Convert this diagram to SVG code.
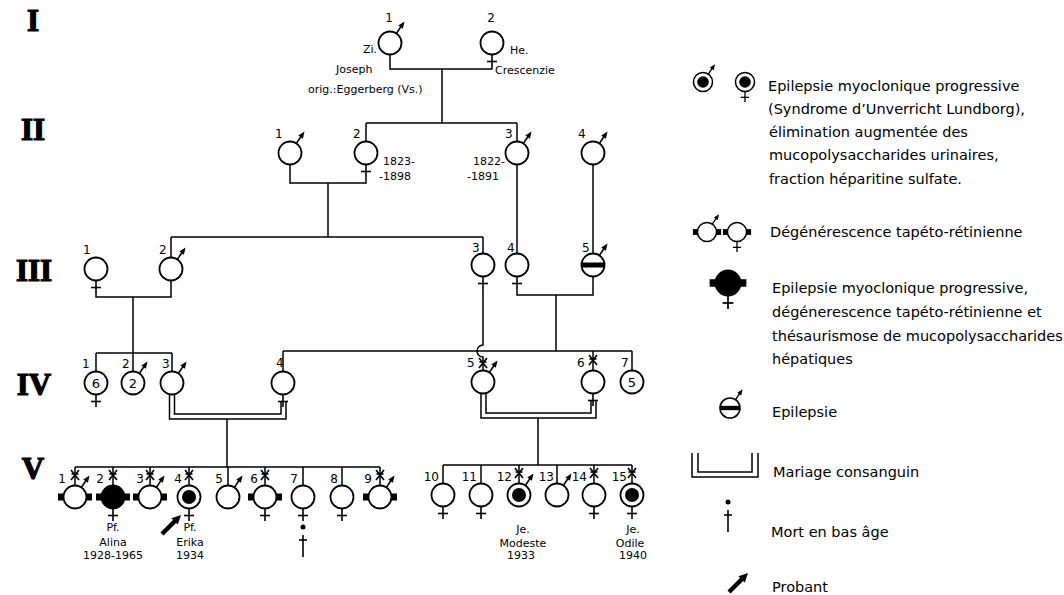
<svg xmlns="http://www.w3.org/2000/svg" xmlns:xlink="http://www.w3.org/1999/xlink" width="1064" height="595" viewBox="0 0 1064 595">
<style>
.ln{fill:none;stroke:#000;stroke-width:1.5}
.c{fill:#fff;stroke:#000;stroke-width:1.8}
.f{fill:#000;stroke:#000;stroke-width:1.8}
.in{fill:#000}
.s{stroke:#000;stroke-width:1.6;fill:none}
text{font-family:"DejaVu Sans","Liberation Sans",sans-serif;fill:#000}
.t{font-size:11px}
.n{font-size:12px}
.m{font-size:12px;text-anchor:middle}
.e{font-size:12px;text-anchor:end}
.cn{font-size:13px;text-anchor:middle}
.lg{font-size:14.5px}
.gen{font-family:"Liberation Serif",serif;font-weight:900;font-size:31px;text-anchor:middle;stroke:#000;stroke-width:1.2}
</style>
<defs>
<g id="male"><line class="s" x1="6.4" y1="-9.6" x2="11" y2="-16.5"/><polygon points="14.5,-21.5 12.9,-14.3 8.3,-17.5" fill="#000"/></g>
<g id="fem"><line class="s" x1="0" y1="11.5" x2="0" y2="24"/><line class="s" x1="-5" y1="18.5" x2="5" y2="18.5"/></g>
<g id="tr"><rect x="-17" y="-3.5" width="6.5" height="7" fill="#000"/><rect x="10.5" y="-3.5" width="6.5" height="7" fill="#000"/></g>
<g id="dx"><line class="s" x1="-4" y1="-5" x2="4" y2="5"/><line class="s" x1="-4" y1="5" x2="4" y2="-5"/><line class="s" x1="-3.5" y1="-1" x2="3.5" y2="-1"/></g>
<g id="prob"><line x1="0" y1="0" x2="13" y2="-13" stroke="#000" stroke-width="4.5"/><polygon points="19,-19 15.8,-9.4 9.4,-15.8" fill="#000"/></g>
</defs>
<rect width="1064" height="595" fill="#fff"/>

<g id="generations">
<text class="gen" x="33" y="31">I</text>
<text class="gen" x="33" y="140">II</text>
<text class="gen" x="34" y="281">III</text>
<text class="gen" x="34" y="395">IV</text>
<text class="gen" x="33" y="479">V</text>
</g>

<g id="connectors" class="ln">
<path d="M390,54.5 V69 H492 V67"/>
<path d="M442,69 V123"/>
<path d="M366,123 H517 M366,123 V141.5 M517,123 V141.5"/>
<path d="M290,164.5 V183 H366 V177"/>
<path d="M328,183 V237"/>
<path d="M171,237 H483 M171,237 V257.5 M483,237 V253.5"/>
<path d="M517,164.5 V253.5"/>
<path d="M593,164.5 V253.5"/>
<path d="M96,293 V297 H171 V280.5"/>
<path d="M133,297 V371.5"/>
<path d="M96,353 H172 M96,353 V371.5 M172,353 V371.5"/>
<path d="M517,289 V295 H593 V276.5"/>
<path d="M556,295 V351"/>
<path d="M283,351 H632 M283,351 V371.5 M593,351 V370.5 M632,351 V370.5"/>
<path d="M483,289 V345 A6,6 0 0 0 483,357 V370.5"/>
<path d="M169.5,394.5 V419 H286 V401.5"/>
<path d="M174.5,394.5 V414 H281 V401.5"/>
<path d="M227,419 V467"/>
<path d="M75,467 H380 M75,467 V485.5 M113,467 V485.5 M150,467 V485.5 M189,467 V485.5 M228,467 V485.5 M265,467 V485.5 M303,467 V485.5 M342,467 V485.5 M380,467 V485.5"/>
<path d="M481,393.5 V418 H596 V400.5"/>
<path d="M486,393.5 V413 H591 V400.5"/>
<path d="M538,418 V465"/>
<path d="M443,465 H632 M443,465 V483.5 M481,465 V483.5 M519,465 V483.5 M557,465 V483.5 M594,465 V483.5 M632,465 V483.5"/>
</g>

<g id="I-1"><circle class="c" cx="390" cy="43" r="11.5"/><use xlink:href="#male" x="390" y="43"/>
<text class="m" x="389" y="22">1</text>
<text class="t" x="377" y="53" text-anchor="end">Zi.</text>
<text class="t" x="336" y="73">Joseph</text>
<text class="t" x="308" y="93">orig.:Eggerberg (Vs.)</text></g>
<g id="I-2"><circle class="c" cx="492" cy="43" r="11.5"/><use xlink:href="#fem" x="492" y="43"/>
<text class="m" x="491" y="22">2</text>
<text class="t" x="510" y="54">He.</text>
<text class="t" x="495" y="74">Crescenzie</text></g>

<g id="II-1"><circle class="c" cx="290" cy="153" r="11.5"/><use xlink:href="#male" x="290" y="153"/><text class="n" x="275" y="138">1</text></g>
<g id="II-2"><circle class="c" cx="366" cy="153" r="11.5"/><use xlink:href="#fem" x="366" y="153"/><text class="n" x="353" y="138">2</text>
<text class="t" x="383" y="165">1823-</text><text class="t" x="379" y="180">-1898</text></g>
<g id="II-3"><circle class="c" cx="517" cy="153" r="11.5"/><use xlink:href="#male" x="517" y="153"/><text class="n" x="505" y="138">3</text>
<text class="t" x="473" y="165">1822-</text><text class="t" x="467" y="180">-1891</text></g>
<g id="II-4"><circle class="c" cx="593" cy="153" r="11.5"/><use xlink:href="#male" x="593" y="153"/><text class="n" x="578" y="138">4</text></g>

<g id="III-1"><circle class="c" cx="96" cy="269" r="11.5"/><use xlink:href="#fem" x="96" y="269"/><text class="n" x="83" y="254">1</text></g>
<g id="III-2"><circle class="c" cx="171" cy="269" r="11.5"/><use xlink:href="#male" x="171" y="269"/><text class="n" x="159" y="254">2</text></g>
<g id="III-3"><circle class="c" cx="483" cy="265" r="11.5"/><use xlink:href="#fem" x="483" y="265"/><text class="n" x="472" y="252">3</text></g>
<g id="III-4"><circle class="c" cx="517" cy="265" r="11.5"/><use xlink:href="#fem" x="517" y="265"/><text class="n" x="507" y="252">4</text></g>
<g id="III-5"><circle class="c" cx="593" cy="265" r="11.5"/><rect x="581.5" y="262.5" width="23" height="5" fill="#000"/><use xlink:href="#male" x="593" y="265"/><text class="n" x="582" y="252">5</text></g>

<g id="IV-1"><circle class="c" cx="96" cy="383" r="11.5"/><use xlink:href="#fem" x="96" y="383"/><text class="cn" x="96" y="388">6</text><text class="n" x="82" y="368">1</text></g>
<g id="IV-2"><circle class="c" cx="133" cy="383" r="11.5"/><use xlink:href="#male" x="133" y="383"/><text class="cn" x="133" y="388">2</text><text class="n" x="122" y="368">2</text></g>
<g id="IV-3"><circle class="c" cx="172" cy="383" r="11.5"/><use xlink:href="#male" x="172" y="383"/><text class="n" x="162" y="368">3</text></g>
<g id="IV-4"><circle class="c" cx="283" cy="383" r="11.5"/><use xlink:href="#fem" x="283" y="383"/><text class="n" x="276" y="367">4</text></g>
<g id="IV-5"><circle class="c" cx="483" cy="382" r="11.5"/><use xlink:href="#male" x="483" y="382"/><use xlink:href="#dx" x="483" y="363"/><text class="n" x="467" y="367">5</text></g>
<g id="IV-6"><circle class="c" cx="593" cy="382" r="11.5"/><use xlink:href="#fem" x="593" y="382"/><use xlink:href="#dx" x="593" y="360"/><text class="n" x="577" y="367">6</text></g>
<g id="IV-7"><circle class="c" cx="632" cy="382" r="11.5"/><text class="cn" x="632" y="387">5</text><text class="n" x="621" y="367">7</text></g>

<g id="V-1"><use xlink:href="#tr" x="75" y="497"/><circle class="c" cx="75" cy="497" r="11.5"/><use xlink:href="#male" x="75" y="497"/><use xlink:href="#dx" x="75" y="475"/><text class="e" x="66" y="483">1</text></g>
<g id="V-2"><use xlink:href="#tr" x="113" y="497"/><circle class="f" cx="113" cy="497" r="11.5"/><use xlink:href="#fem" x="113" y="497"/><use xlink:href="#dx" x="113" y="475"/><text class="e" x="104" y="483">2</text>
<text class="t" x="113" y="531" text-anchor="middle">Pf.</text><text class="t" x="113" y="546" text-anchor="middle">Alina</text><text class="t" x="113" y="559" text-anchor="middle">1928-1965</text></g>
<g id="V-3"><use xlink:href="#tr" x="150" y="497"/><circle class="c" cx="150" cy="497" r="11.5"/><use xlink:href="#male" x="150" y="497"/><use xlink:href="#dx" x="150" y="475"/><text class="e" x="144" y="483">3</text></g>
<g id="V-4"><circle class="c" cx="189" cy="497" r="11.5"/><circle class="in" cx="189" cy="497" r="7"/><use xlink:href="#fem" x="189" y="497"/><use xlink:href="#dx" x="189" y="475"/><text class="e" x="182" y="483">4</text>
<use xlink:href="#prob" x="162" y="534"/>
<text class="t" x="190" y="531" text-anchor="middle">Pf.</text><text class="t" x="190" y="546" text-anchor="middle">Erika</text><text class="t" x="190" y="559" text-anchor="middle">1934</text></g>
<g id="V-5"><circle class="c" cx="228" cy="497" r="11.5"/><use xlink:href="#male" x="228" y="497"/><text class="e" x="223" y="483">5</text></g>
<g id="V-6"><use xlink:href="#tr" x="265" y="497"/><circle class="c" cx="265" cy="497" r="11.5"/><use xlink:href="#fem" x="265" y="497"/><use xlink:href="#dx" x="265" y="475"/><text class="e" x="258" y="483">6</text></g>
<g id="V-7"><circle class="c" cx="303" cy="497" r="11.5"/><use xlink:href="#fem" x="303" y="497"/><text class="e" x="298" y="483">7</text>
<circle cx="303" cy="527" r="2.5" fill="#000"/><line class="s" x1="303" y1="535" x2="303" y2="557"/><line class="s" x1="299" y1="540" x2="307" y2="540"/></g>
<g id="V-8"><circle class="c" cx="342" cy="497" r="11.5"/><use xlink:href="#fem" x="342" y="497"/><text class="e" x="338" y="483">8</text></g>
<g id="V-9"><use xlink:href="#tr" x="380" y="497"/><circle class="c" cx="380" cy="497" r="11.5"/><use xlink:href="#male" x="380" y="497"/><use xlink:href="#dx" x="380" y="475"/><text class="e" x="372" y="483">9</text></g>

<g id="V-10"><circle class="c" cx="443" cy="495" r="11.5"/><use xlink:href="#fem" x="443" y="495"/><text class="e" x="439" y="481">10</text></g>
<g id="V-11"><circle class="c" cx="481" cy="495" r="11.5"/><use xlink:href="#fem" x="481" y="495"/><text class="e" x="477" y="481">11</text></g>
<g id="V-12"><circle class="c" cx="519" cy="495" r="11.5"/><circle class="in" cx="519" cy="495" r="7"/><use xlink:href="#male" x="519" y="495"/><use xlink:href="#dx" x="519" y="473"/><text class="e" x="512" y="481">12</text>
<text class="t" x="523" y="533" text-anchor="middle">Je.</text><text class="t" x="523" y="547" text-anchor="middle">Modeste</text><text class="t" x="521" y="559" text-anchor="middle">1933</text></g>
<g id="V-13"><circle class="c" cx="557" cy="495" r="11.5"/><use xlink:href="#male" x="557" y="495"/><text class="e" x="554" y="481">13</text></g>
<g id="V-14"><circle class="c" cx="594" cy="495" r="11.5"/><use xlink:href="#fem" x="594" y="495"/><use xlink:href="#dx" x="594" y="473"/><text class="e" x="587" y="481">14</text></g>
<g id="V-15"><circle class="c" cx="632" cy="495" r="11.5"/><circle class="in" cx="632" cy="495" r="7"/><use xlink:href="#fem" x="632" y="495"/><use xlink:href="#dx" x="632" y="473"/><text class="e" x="627" y="481">15</text>
<text class="t" x="633" y="533" text-anchor="middle">Je.</text><text class="t" x="630" y="547" text-anchor="middle">Odile</text><text class="t" x="633" y="559" text-anchor="middle">1940</text></g>

<g id="legend-emp">
<g transform="translate(703,82) scale(0.83)"><circle class="c" r="11.5"/><circle class="in" r="7"/><use xlink:href="#male"/></g>
<g transform="translate(745,82) scale(0.83)"><circle class="c" r="11.5"/><circle class="in" r="7"/><use xlink:href="#fem"/></g>
<text class="lg" x="768" y="91">Epilepsie myoclonique progressive</text>
<text class="lg" x="768" y="114">(Syndrome d’Unverricht Lundborg),</text>
<text class="lg" x="769" y="137">élimination augmentée des</text>
<text class="lg" x="769" y="160">mucopolysaccharides urinaires,</text>
<text class="lg" x="769" y="184">fraction héparitine sulfate.</text>
</g>
<g id="legend-dtr">
<g transform="translate(707,232) scale(0.83)"><use xlink:href="#tr"/><circle class="c" r="11.5"/><use xlink:href="#male"/></g>
<g transform="translate(737,232) scale(0.83)"><use xlink:href="#tr"/><circle class="c" r="11.5"/><use xlink:href="#fem"/></g>
<text class="lg" x="770" y="237">Dégénérescence tapéto-rétinienne</text>
</g>
<g id="legend-combo">
<g transform="translate(728,283) scale(1.08)"><use xlink:href="#tr"/><circle class="f" r="11.5"/><use xlink:href="#fem"/></g>
<text class="lg" x="772" y="293">Epilepsie myoclonique progressive,</text>
<text class="lg" x="772" y="317">dégénerescence tapéto-rétinienne et</text>
<text class="lg" x="772" y="341">thésaurismose de mucopolysaccharides</text>
<text class="lg" x="772" y="364">hépatiques</text>
</g>
<g id="legend-epi">
<g transform="translate(730,408) scale(0.87)"><circle class="c" r="11.5"/><rect x="-11.5" y="-2.5" width="23" height="5" fill="#000"/><use xlink:href="#male"/></g>
<text class="lg" x="772" y="417">Epilepsie</text>
</g>
<g id="legend-consang">
<path class="ln" d="M692,453 V477 H758 V453"/>
<path class="ln" d="M698,453 V472 H752 V453"/>
<text class="lg" x="773" y="477">Mariage consanguin</text>
</g>
<g id="legend-death">
<circle cx="728" cy="502" r="2.5" fill="#000"/>
<line class="s" x1="728" y1="510" x2="728" y2="532"/><line class="s" x1="724" y1="515" x2="732" y2="515"/>
<text class="lg" x="771" y="537">Mort en bas âge</text>
</g>
<g id="legend-probant">
<use xlink:href="#prob" x="729" y="592"/>
<text class="lg" x="772" y="592">Probant</text>
</g>
</svg>
